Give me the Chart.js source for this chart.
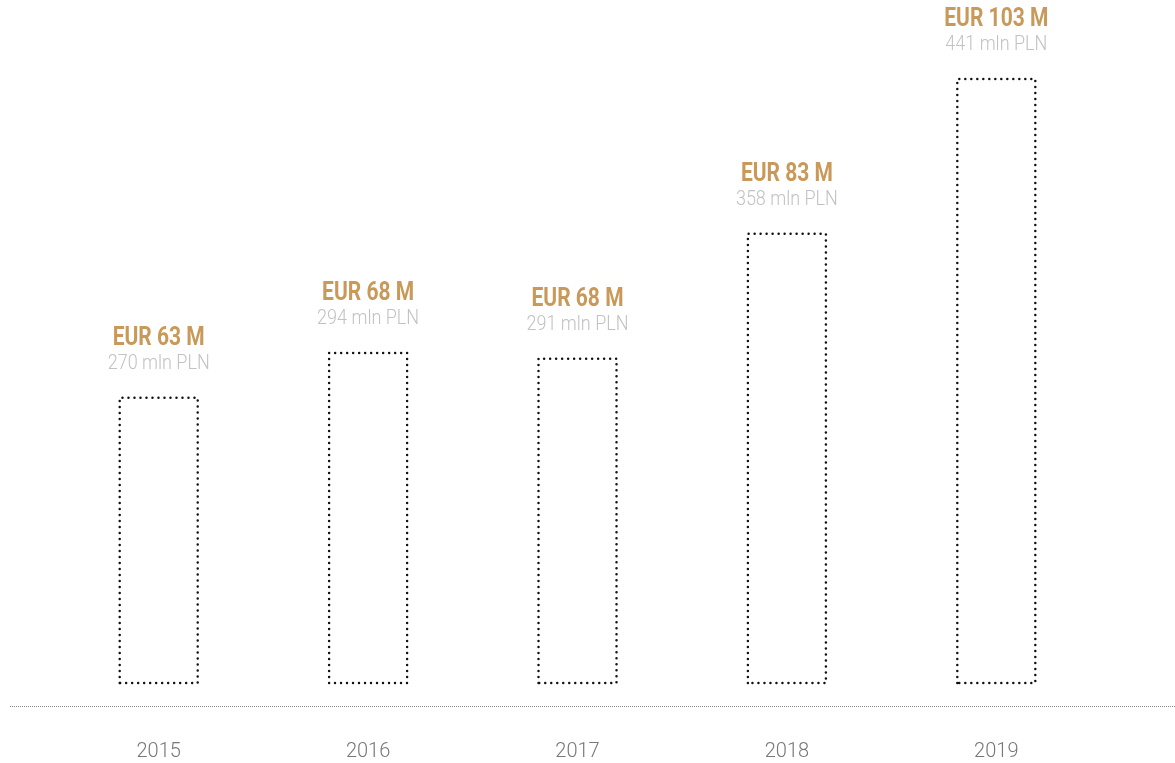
<!DOCTYPE html>
<html>
<head>
<meta charset="utf-8">
<script src="https://cdn.jsdelivr.net/npm/chart.js@4.4.1/dist/chart.umd.min.js"></script>
<style>
  html, body { margin: 0; padding: 0; background: #fff; }
  #wrap { width: 1175px; height: 763px; position: relative; }
</style>
</head>
<body>
<div id="wrap"><canvas id="chart"></canvas></div>
<script>
// Przychody – lata, wartości w mln PLN i EUR
const years = ['2015', '2016', '2017', '2018', '2019'];
const valuesPLN = [270, 294, 291, 358, 441];
const valuesEUR = [63, 68, 68, 83, 103];

const Y_MIN = 117;
const Y_MAX = 441;

const GOLD = '#c9995a';
const LIGHT_GREY = '#c2c2c2';

// Kropkowane obramowanie słupków + etykiety nad nimi
const dottedBars = {
    id: 'dottedBars',
    afterDatasetsDraw(chart) {
        const ctx = chart.ctx;
        const meta = chart.getDatasetMeta(0);
        meta.data.forEach((bar, i) => {
            const { x, y, base, width } = bar.getProps(['x', 'y', 'base', 'width'], true);
            const left = x - width / 2;
            const right = x + width / 2;

            ctx.save();
            ctx.strokeStyle = '#111';
            ctx.lineWidth = 2.5;
            ctx.lineCap = 'round';
            ctx.setLineDash([0, 6]);
            ctx.beginPath();
            ctx.moveTo(left, base);
            ctx.lineTo(left, y);
            ctx.lineTo(right, y);
            ctx.lineTo(right, base);
            ctx.lineTo(left, base);
            ctx.stroke();
            ctx.restore();

            // etykiety (węższe, jak krój condensed)
            ctx.save();
            ctx.textAlign = 'center';
            ctx.textBaseline = 'middle';
            ctx.translate(x, y - 59);
            ctx.scale(0.84, 1);
            ctx.fillStyle = GOLD;
            ctx.font = 'bold 25px Roboto';
            ctx.fillText(`EUR ${valuesEUR[i]} M`, 0, 0);
            ctx.restore();

            ctx.save();
            ctx.textAlign = 'center';
            ctx.textBaseline = 'middle';
            ctx.translate(x, y - 34);
            ctx.scale(0.9, 1);
            ctx.fillStyle = LIGHT_GREY;
            ctx.font = '300 20px Roboto';
            ctx.fillText(`${valuesPLN[i]} mln PLN`, 0, 0);
            ctx.restore();
        });
    }
};

// Kropkowana linia bazowa pod słupkami
const baseLine = {
    id: 'baseLine',
    beforeDatasetsDraw(chart) {
        const ctx = chart.ctx;
        const yLine = chart.chartArea.bottom + 23.5;
        ctx.save();
        ctx.strokeStyle = '#888';
        ctx.lineWidth = 1;
        ctx.setLineDash([1, 1]);
        ctx.beginPath();
        ctx.moveTo(10, yLine);
        ctx.lineTo(chart.width, yLine);
        ctx.stroke();
        ctx.restore();
    }
};

new Chart(document.getElementById('chart'), {
    type: 'bar',
    data: {
        labels: years,
        datasets: [{
            data: valuesPLN,
            base: Y_MIN,
            backgroundColor: 'rgba(0,0,0,0)',
            borderWidth: 0,
            barThickness: 78
        }]
    },
    options: {
        responsive: true,
        maintainAspectRatio: false,
        animation: false,
        layout: { padding: { top: 79, left: 54, right: 74, bottom: 1 } },
        plugins: {
            legend: { display: false },
            tooltip: { enabled: false }
        },
        scales: {
            y: { display: false, min: Y_MIN, max: Y_MAX },
            x: {
                grid: { display: false, drawTicks: false },
                border: { display: false },
                afterFit: (scale) => { scale.height = 79; },
                ticks: {
                    padding: 57,
                    color: '#777',
                    font: { family: 'Roboto', size: 20, weight: '300' }
                }
            }
        }
    },
    plugins: [baseLine, dottedBars]
});
</script>
</body>
</html>
